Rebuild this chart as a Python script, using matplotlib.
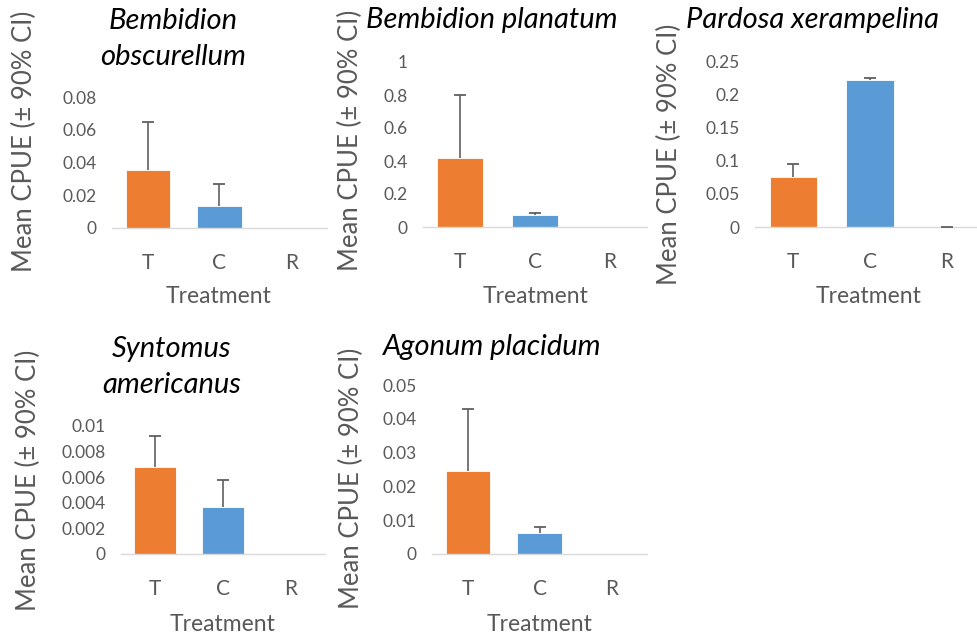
import numpy as np
import matplotlib
matplotlib.use("Agg")
import matplotlib.pyplot as plt

plt.rcParams["font.family"] = ["Lato", "DejaVu Sans"]

W, H = 977, 635

treatments = ["T", "C", "R"]

titles = [
    "Bembidion\nobscurellum",
    "Bembidion planatum",
    "Pardosa xerampelina",
    "Syntomus\namericanus",
    "Agonum placidum",
]

# Mean CPUE per treatment (T, C, R)
mean_b_obscurellum = [0.0355, 0.0133, 0.0]
mean_b_planatum = [0.42, 0.07, 0.0]
mean_p_xerampelina = [0.076, 0.222, 0.0]
mean_s_americanus = [0.0068, 0.0037, 0.0]
mean_a_placidum = [0.0246, 0.0062, 0.0]

# Upper half-width of the 90% CI (nan = no error bar drawn)
ci_b_obscurellum = [0.029, 0.0133, np.nan]
ci_b_planatum = [0.38, 0.016, np.nan]
ci_p_xerampelina = [0.019, 0.003, 0.0]
ci_s_americanus = [0.0024, 0.0021, np.nan]
ci_a_placidum = [0.0184, 0.0019, np.nan]

# y-axis maximum and tick step per panel
y_max = [0.08, 1.0, 0.25, 0.01, 0.05]
y_step = [0.02, 0.2, 0.05, 0.002, 0.01]

means = [mean_b_obscurellum, mean_b_planatum, mean_p_xerampelina,
         mean_s_americanus, mean_a_placidum]
cis = [ci_b_obscurellum, ci_b_planatum, ci_p_xerampelina,
       ci_s_americanus, ci_a_placidum]

# Panel geometry in pixels: plot left, plot right, baseline y, top-tick y
frames = [
    (112, 327, 228, 97),
    (423, 647, 227, 62),
    (755, 985, 227, 61),
    (121, 325, 554, 426),
    (432, 647, 554, 385),
]
# y-label centre (x, y) in pixels
ylabel_pos = [(24, 141), (350, 140), (669, 154), (28, 480), (351, 478)]
# title: centre x, first-line baseline y
title_pos = [(173, 29), (492, 28), (813, 28), (172, 357), (492, 355)]
xlabel_pos = [(219, 303), (536, 303), (869, 303), (223, 631), (540, 631)]

ORANGE = "#ED7D31"
BLUE = "#5B9BD5"
GREY_TXT = "#595959"
ERR = "#606060"
AXIS = "#D9D9D9"

fig = plt.figure(figsize=(W / 100, H / 100), dpi=100)


def fx(px):
    return px / W


def fy(py):
    return 1 - py / H


for i in range(5):
    x0, x1, yb, yt = frames[i]
    ax = fig.add_axes([fx(x0), fy(yb), fx(x1) - fx(x0), fy(yt) - fy(yb)])
    x = np.arange(len(treatments))
    m = np.array(means[i], dtype=float)
    e = np.array(cis[i], dtype=float)
    ax.bar(x, m, width=0.62, color=[ORANGE, BLUE, BLUE],
           edgecolor="white", linewidth=0.6, zorder=2)
    ok = ~np.isnan(e)
    # upper-only error bars: stem from the mean, cap at the upper limit
    ax.vlines(x[ok], m[ok], m[ok] + e[ok], color=ERR, linewidth=1.2,
              zorder=3)
    ax.plot(x[ok], m[ok] + e[ok], linestyle="none", marker="_",
            markersize=8, markeredgewidth=1.3, color=ERR, zorder=3,
            clip_on=False)
    ax.set_xlim(-0.5, 2.5)
    ax.set_ylim(0, y_max[i])
    ticks = np.arange(0, y_max[i] + y_step[i] / 2, y_step[i])
    ax.set_yticks(ticks)
    ax.set_yticklabels([f"{t:.10g}" for t in np.round(ticks, 6)])
    ax.set_xticks(x)
    ax.set_xticklabels(treatments)
    for s in ["top", "right", "left"]:
        ax.spines[s].set_visible(False)
    ax.spines["bottom"].set_color(AXIS)
    ax.spines["bottom"].set_linewidth(1.0)
    ax.tick_params(axis="y", length=0, pad=11, labelsize=12.5,
                   labelcolor=GREY_TXT)
    ax.tick_params(axis="x", length=0, pad=18, labelsize=15,
                   labelcolor=GREY_TXT)
    ax.patch.set_visible(False)

    tx, ty = title_pos[i]
    for k, line in enumerate(titles[i].split("\n")):
        fig.text(fx(tx), fy(ty + 36 * k), line, ha="center", va="baseline",
                 fontsize=21, style="italic", color="black")

    lx, ly = ylabel_pos[i]
    fig.text(fx(lx), fy(ly), "Mean CPUE (± 90% CI)", rotation=90,
             ha="center", va="center", fontsize=18.5, color=GREY_TXT)

    bx, by = xlabel_pos[i]
    fig.text(fx(bx), fy(by), "Treatment", ha="center", va="baseline",
             fontsize=16.5, color=GREY_TXT)

fig.savefig("out.png", dpi=100, facecolor="white")
